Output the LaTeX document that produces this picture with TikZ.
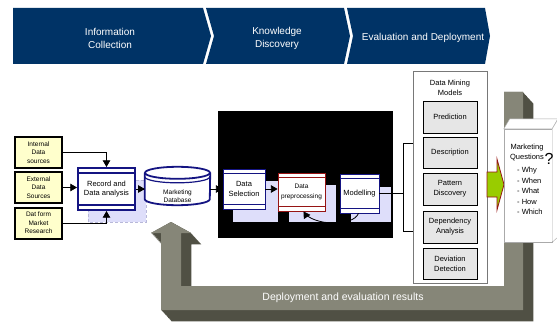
\documentclass[tikz,border=0pt]{standalone}
\usepackage{fontspec}
\setmainfont{Liberation Sans}
\usetikzlibrary{arrows}
\definecolor{banner}{RGB}{0,51,102}
\definecolor{boxblue}{RGB}{20,20,130}
\definecolor{boxred}{RGB}{150,20,20}
\definecolor{srcyellow}{RGB}{255,255,204}
\definecolor{shadecol}{RGB}{222,222,250}
\definecolor{boxgrey}{RGB}{230,230,230}
\definecolor{dmmgrey}{RGB}{120,120,120}
\definecolor{qgrey}{RGB}{170,170,170}
\definecolor{ulight}{RGB}{134,134,120}
\definecolor{udark}{RGB}{80,80,68}
\definecolor{arrgreen}{RGB}{153,204,0}
\newcommand{\uloop}{(171,100) -- (191,89) -- (181,89) -- (181,36) -- (504,36) -- (504,230) -- (523,230) -- (523,12) -- (161,12) -- (161,89) -- (151,89) -- cycle}
\newcommand{\fs}[2]{\fontsize{#1}{#2}\selectfont}
\begin{document}
\begin{tikzpicture}[x=1pt,y=1pt,>=triangle 60]
\tikzstyle{every node}=[inner sep=1pt, align=center]
\tikzstyle{src}=[draw=black, line width=2pt, fill=srcyellow, minimum width=47pt, minimum height=31pt, font=\fs{6.5}{8.5}]
\tikzstyle{procbox}=[draw, color=boxblue, fill=white, text=black, line width=0.8pt, font=\fs{7.5}{9.5}, path picture={\draw ([yshift=-4.5pt]path picture bounding box.north west) -- ([yshift=-4.5pt]path picture bounding box.north east) ([yshift=5pt]path picture bounding box.south west) -- ([yshift=5pt]path picture bounding box.south east);}]
\tikzstyle{mbox}=[draw=black, line width=0.8pt, fill=boxgrey, minimum width=54pt, font=\fs{7.5}{10}]
\tikzstyle{dbline}=[draw=boxblue, line width=1.8pt]
\tikzstyle{conn}=[->, line width=0.8pt]
\useasboundingbox (0,0) rectangle (557,322);
\fill[banner] (13,314) -- (203,314) -- (211,286) -- (203,258) -- (13,258) -- cycle;
\fill[banner] (206,314) -- (344,314) -- (350,286) -- (344,258) -- (206,258) -- (214,286) -- cycle;
\fill[banner] (347,314) -- (485,314) -- (490,286) -- (485,258) -- (347,258) -- (353,286) -- cycle;
\draw (110,284) node (tic) [text=white, font=\fs{10}{13}] {Information\\Collection};
\draw (277,284) node (tkd) [text=white, font=\fs{10}{13}] {Knowledge\\Discovery};
\draw (423,284) node (ted) [text=white, font=\fs{10}{13}] {Evaluation and Deployment};
\foreach \s in {0,0.05,...,1}
  \fill[udark, shift={(11*\s,-12*\s)}] \uloop;
\fill[ulight] \uloop;
\draw (343,24) node (res) [text=white, font=\fs{10.5}{12}] {Deployment and evaluation results};
\fill[black] (218,84) rectangle (393,211);
\filldraw[fill=shadecol, draw=boxblue!30, densely dashed] (88,100) rectangle (146,142);
\fill[shadecol] (233,100) rectangle (278,141);
\fill[shadecol] (289,100) rectangle (336,137);
\fill[shadecol] (351,100) rectangle (391,135);
\draw (38.5,169.5) node (int) [src] {Internal\\Data\\sources};
\draw (38.5,134.5) node (ext) [src] {External\\Data\\Sources};
\draw (38.5,99) node (mkt) [src] {Dat form\\Market\\Research};
\draw (106.5,133) node (rec) [procbox, line width=2pt, minimum width=57pt, minimum height=42pt] {Record and\\Data analysis};
\draw (177.5,136) node (db) [minimum width=65pt, minimum height=38pt] {};
\draw[dbline, fill=white] (db.north west) ++(0,-6) -- ([yshift=6pt]db.south west) arc[start angle=180, end angle=360, x radius=32.5, y radius=6] -- ([yshift=-6pt]db.north east);
\draw[dbline] ([yshift=-6pt]db.north) ellipse [x radius=32.5, y radius=6];
\draw[boxblue, line width=1.2pt] ([yshift=-10pt]db.north west) arc[start angle=180, end angle=360, x radius=32.5, y radius=6];
\draw (177.5,126) node (dbt) [font=\fs{6.5}{8.5}] {Marketing\\Database};
\draw (244,133) node (sel) [procbox, minimum width=42pt, minimum height=40pt] {Data\\Selection};
\draw (301.5,130) node (pre) [procbox, color=boxred, fill=white, text=black, minimum width=47pt, minimum height=38pt, font=\fs{6.5}{9.5}] {Data\\preprocessing};
\draw (359.5,128.5) node (mod) [procbox, minimum width=39pt, minimum height=39pt] {Modelling};
\draw[conn] (int.east) -| (rec.north);
\draw[conn] (ext.east) -- (ext.east -| rec.west);
\draw[conn] (mkt.east) -| (rec.south);
\draw[conn] (rec.east) -- (rec.east -| db.west);
\draw[conn] (sel.west -| db.east) -- (sel.west);
\draw[conn] (sel.east) -- (sel.east -| pre.west);
\draw[conn] ([xshift=-1pt]mod.south) .. controls +(-6,-14) and +(9,-14) .. ([xshift=2pt]pre.south);
\draw (450,144.5) node (dmm) [draw=dmmgrey, line width=1pt, fill=white, minimum width=74pt, minimum height=211pt] {};
\draw (450,234) node (dmt) [font=\fs{7.5}{10}] {Data Mining\\Models};
\draw (450,205) node (pred) [mbox, minimum height=32pt] {Prediction};
\draw (450,169.5) node (desc) [mbox, minimum height=31pt] {Description};
\draw (450,133) node (pat) [mbox, minimum height=32pt] {Pattern\\Discovery};
\draw (450,95) node (dep) [mbox, minimum height=32pt] {Dependency\\Analysis};
\draw (450,58.5) node (dev) [mbox, minimum height=31pt] {Deviation\\Detection};
\coordinate (bt) at (403,179);
\coordinate (bb) at (403,91);
\draw[line width=0.7pt] (bt -| dmm.west) -- (bt) -- (bb) -- (bb -| dmm.west);
\draw[line width=0.7pt] (mod.east) -- (mod.east -| bt);
\filldraw[fill=arrgreen, draw=boxred, line width=0.8pt] (487,150) -- (497,150) -- (497,163) -- (504,137.5) -- (497,112) -- (497,125) -- (487,125) -- cycle;
\draw (528,136.5) node (mq) [draw=qgrey, fill=white, minimum width=48pt, minimum height=113pt] {};
\filldraw[draw=qgrey, fill=white] (mq.north west) -- ++(6,10) -- ++(48,0) -- (mq.north east) -- cycle;
\filldraw[draw=qgrey, fill=white] (mq.north east) -- ++(6,10) -- ++(0,-118) -- (mq.south east) -- cycle;
\draw (527,170) node (mqt) [font=\fs{7.5}{10}] {Marketing\\Questions};
\draw (549,163) node (qm) [font=\fs{16}{16}] {?};
\draw (516,131) node (mql) [anchor=west, align=left, font=\fs{7.5}{10.5}] {- Why\\- When\\- What\\- How\\- Which};
\end{tikzpicture}
\end{document}
